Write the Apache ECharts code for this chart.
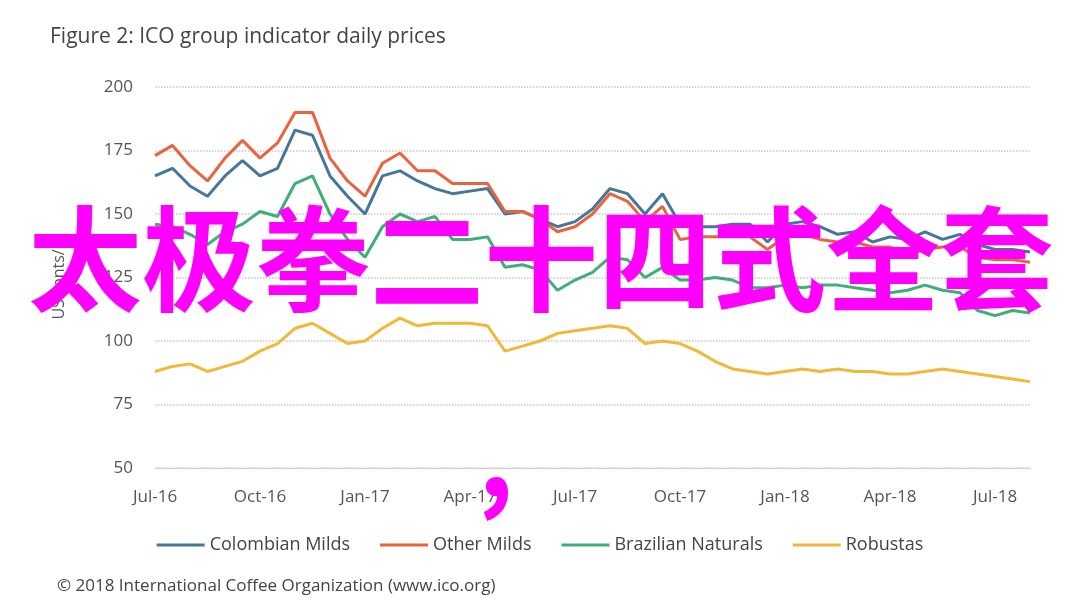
<!DOCTYPE html>
<html><head><meta charset="utf-8">
<script src="https://cdn.jsdelivr.net/npm/echarts@6/dist/echarts.min.js"></script>
<style>html,body{margin:0;padding:0;background:#fff}#c{width:1080px;height:609px}</style>
</head><body><div id="c"></div>
<script>
const quarterLabels = ["Jul-16","Oct-16","Jan-17","Apr-17","Jul-17","Oct-17","Jan-18","Apr-18","Jul-18"];
// half-monthly sample points, Jul-16 to Aug-18
const colombian = [165,168,161,157,165,171,165,168,183,181,165,157,150,165,167,163,160,158,159,160,150,151,148,145,147,152,160,158,150,158,146,145,145,146,146,139,146,147,145,142,143,139,141,140,143,140,142,138,136,136,135];
const otherMilds = [173,177,169,163,172,179,172,178,190,190,172,163,157,170,174,167,167,162,162,162,151,151,148,143,145,150,158,155,147,153,140,141,141,141,141,136,141,142,140,139,139,137,137,134,136,137,137,133,132,132,131];
const brazilian = [146,145,142,138,143,146,151,149,162,165,150,140,133,145,150,147,149,140,140,141,129,130,128,120,124,127,133,132,125,129,124,124,125,124,121,121,122,121,122,122,121,120,119,120,122,120,119,112,110,112,111];
const robustas = [88,90,91,88,90,92,96,99,105,107,103,99,100,105,109,106,107,107,107,106,96,98,100,103,104,105,106,105,99,100,99,96,92,89,88,87,88,89,88,89,88,88,87,87,88,89,88,87,86,85,84];
const categories = colombian.map((_, i) => i % 6 === 0 ? quarterLabels[i / 6] : "p" + i);
const F = "'Open Sans', sans-serif";
const mk = (name, data, color) => ({name, type:'line', data, showSymbol:false, lineStyle:{width:3,color}, itemStyle:{color}});
const chart = echarts.init(document.getElementById('c'));
chart.setOption({
  animation:false,
  title:{text:'Figure 2: ICO group indicator daily prices', left:45, top:22, textStyle:{fontFamily:F,fontSize:21,fontWeight:'normal',color:'#444'}},
  grid:{left:155, right:50, top:87, bottom:141},
  xAxis:{type:'category', data:categories, boundaryGap:false,
    axisLine:{lineStyle:{color:'#d0d0d0'}}, axisTick:{show:false},
    axisLabel:{interval:5, color:'#555', fontFamily:F, fontSize:17, margin:21},
    splitLine:{show:false}},
  yAxis:{type:'value', min:50, max:200, interval:25, name:'US cents/lb', nameLocation:'middle', nameGap:88,
    nameTextStyle:{fontFamily:F,fontSize:16,color:'#555'},
    axisLine:{show:false}, axisTick:{show:false},
    axisLabel:{color:'#555', fontFamily:F, fontSize:17, margin:22},
    splitLine:{lineStyle:{type:'dotted', color:'#c8c8c8', width:1.5}}},
  legend:{bottom:50, left:'center', itemWidth:48, itemHeight:3, itemGap:30, icon:'rect',
    textStyle:{fontFamily:F,fontSize:18,color:'#444'},
    data:['Colombian Milds','Other Milds','Brazilian Naturals','Robustas']},
  series:[
    mk('Colombian Milds', colombian, '#44779a'),
    mk('Other Milds', otherMilds, '#e8643e'),
    mk('Brazilian Naturals', brazilian, '#3fae7a'),
    mk('Robustas', robustas, '#f0b93a')
  ],
  graphic:[
    {type:'text', left:57, top:578, style:{text:'© 2018 International Coffee Organization (www.ico.org)', font:"17px 'Open Sans', sans-serif", fill:'#444'}},
    {type:'text', left:28, top:202, z:100, style:{text:'太极拳二十四式全套', font:"bold 114px 'Noto Sans CJK SC'", fill:'#ff00ff'}},
    {type:'text', left:478, top:400, z:100, style:{text:',', font:"bold 110px 'Noto Sans CJK SC'", fill:'#ff00ff'}}
  ]
});
</script></body></html>
